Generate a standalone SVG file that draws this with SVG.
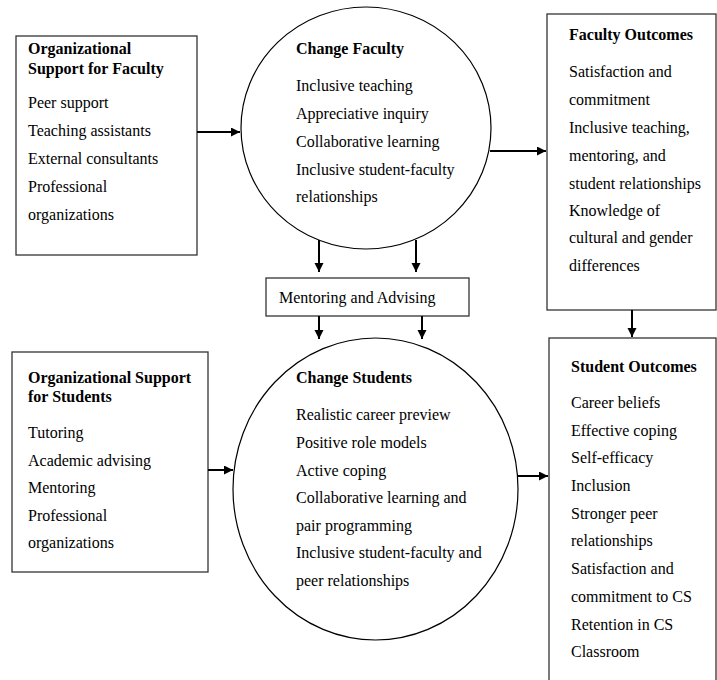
<svg xmlns="http://www.w3.org/2000/svg" width="717" height="680" viewBox="0 0 717 680">
<style>
text{font-family:"Liberation Serif","Times New Roman",serif;font-size:16px;fill:#000}
.t{font-weight:bold}
.box{fill:#fff;stroke:#333;stroke-width:1.3}
.circ{fill:#fff;stroke:#000;stroke-width:1.2}
.con{stroke:#000;stroke-width:2;fill:none;marker-end:url(#ah)}
</style>
<defs>
<marker id="ah" markerUnits="userSpaceOnUse" markerWidth="10" markerHeight="10" refX="9" refY="4.5" orient="auto">
<path d="M0,0 L9,4.5 L0,9 z" fill="#000"/>
</marker>
</defs>
<rect width="717" height="680" fill="#fff"/>
<g id="org-faculty">
<rect class="box" x="16" y="36" width="181" height="219"/>
<text class="t" x="28" y="54">Organizational</text>
<text class="t" x="28" y="74">Support for Faculty</text>
<text x="28" y="108">Peer support</text>
<text x="28" y="136">Teaching assistants</text>
<text x="28" y="164">External consultants</text>
<text x="28" y="192">Professional</text>
<text x="28" y="220">organizations</text>
</g>
<g id="change-faculty">
<ellipse class="circ" cx="366" cy="128" rx="125" ry="121"/>
<text class="t" x="296" y="54">Change Faculty</text>
<text x="296" y="91">Inclusive teaching</text>
<text x="296" y="119">Appreciative inquiry</text>
<text x="296" y="147">Collaborative learning</text>
<text x="296" y="175">Inclusive student-faculty</text>
<text x="296" y="202">relationships</text>
</g>
<g id="faculty-outcomes">
<rect class="box" x="547" y="14" width="169" height="296"/>
<text class="t" x="569" y="40">Faculty Outcomes</text>
<text x="569" y="77">Satisfaction and</text>
<text x="569" y="105">commitment</text>
<text x="569" y="133">Inclusive teaching,</text>
<text x="569" y="161">mentoring, and</text>
<text x="569" y="189">student relationships</text>
<text x="569" y="216">Knowledge of</text>
<text x="569" y="243">cultural and gender</text>
<text x="569" y="271">differences</text>
</g>
<g id="mentoring">
<rect class="box" x="266" y="278" width="203" height="38"/>
<text x="279" y="303">Mentoring and Advising</text>
</g>
<g id="org-students">
<rect class="box" x="12" y="352" width="196" height="220"/>
<text class="t" x="28" y="383">Organizational Support</text>
<text class="t" x="28" y="402">for Students</text>
<text x="28" y="438">Tutoring</text>
<text x="28" y="466">Academic advising</text>
<text x="28" y="493">Mentoring</text>
<text x="28" y="521">Professional</text>
<text x="28" y="548">organizations</text>
</g>
<g id="change-students">
<ellipse class="circ" cx="375.5" cy="489" rx="142.5" ry="151"/>
<text class="t" x="296" y="383">Change Students</text>
<text x="296" y="420">Realistic career preview</text>
<text x="296" y="448">Positive role models</text>
<text x="296" y="476">Active coping</text>
<text x="296" y="503">Collaborative learning and</text>
<text x="296" y="531">pair programming</text>
<text x="296" y="558">Inclusive student-faculty and</text>
<text x="296" y="586">peer relationships</text>
</g>
<g id="student-outcomes">
<rect class="box" x="549" y="338" width="167" height="360"/>
<text class="t" x="571" y="372">Student Outcomes</text>
<text x="571" y="408">Career beliefs</text>
<text x="571" y="436">Effective coping</text>
<text x="571" y="463">Self-efficacy</text>
<text x="571" y="491">Inclusion</text>
<text x="571" y="519">Stronger peer</text>
<text x="571" y="546">relationships</text>
<text x="571" y="574">Satisfaction and</text>
<text x="571" y="602">commitment to CS</text>
<text x="571" y="630">Retention in CS</text>
<text x="571" y="657">Classroom</text>
</g>
<g id="connectors">
<line class="con" x1="197" y1="132" x2="240" y2="132"/>
<line class="con" x1="490" y1="151" x2="546" y2="151"/>
<line class="con" x1="319" y1="240" x2="319" y2="272"/>
<line class="con" x1="416" y1="240" x2="416" y2="272"/>
<line class="con" x1="319" y1="316" x2="319" y2="339"/>
<line class="con" x1="422" y1="316" x2="422" y2="339"/>
<line class="con" x1="632" y1="310" x2="632" y2="337"/>
<line class="con" x1="208" y1="470" x2="233" y2="470"/>
<line class="con" x1="518" y1="476" x2="548" y2="476"/>
</g>
</svg>
